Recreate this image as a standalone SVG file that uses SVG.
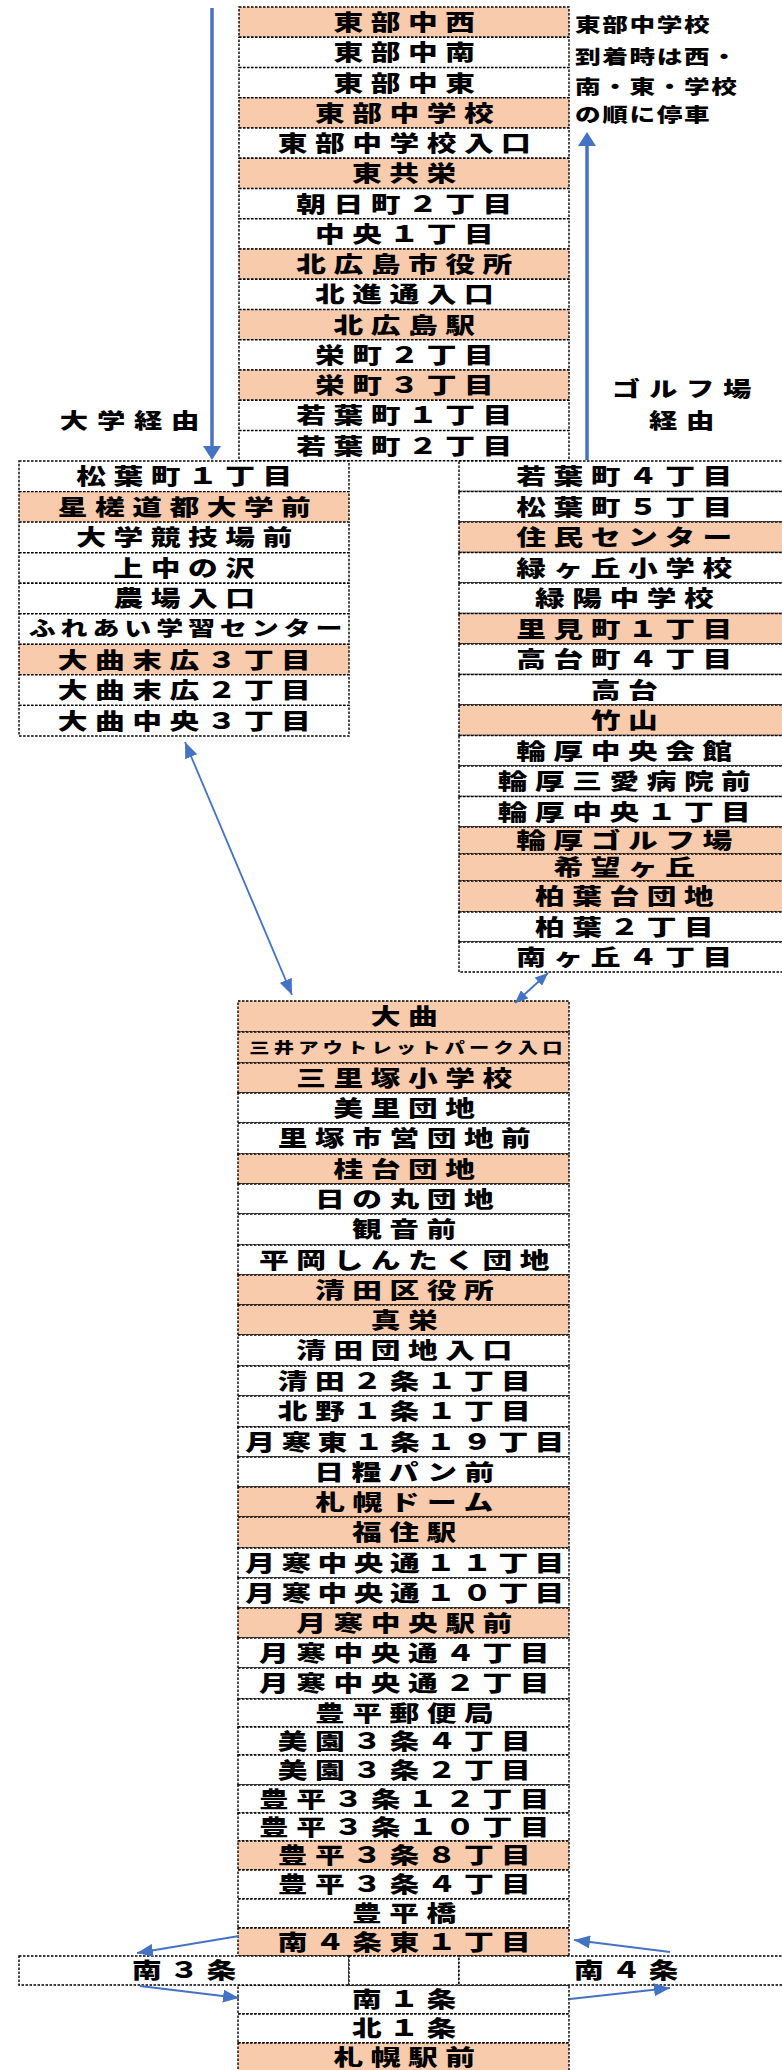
<svg xmlns="http://www.w3.org/2000/svg" width="782" height="2070" viewBox="0 0 782 2070">
<style>
.c{stroke:#000;stroke-width:1.4;stroke-dasharray:2.5 1.5;fill:#fff}
.o{fill:#F8CBAD}
.t{font-family:"Noto Sans CJK JP","Noto Sans",sans-serif;font-weight:900;font-size:22px;letter-spacing:5.6px;text-anchor:middle;fill:#000}
.w9{letter-spacing:4.8px}
.f{font-size:20px;letter-spacing:3.6px}
.s{font-size:15px;letter-spacing:3.1px}
.n{font-family:"Noto Sans CJK JP","Noto Sans",sans-serif;font-weight:900;font-size:19px;letter-spacing:1.2px;fill:#000}
.lb{font-family:"Noto Sans CJK JP","Noto Sans",sans-serif;font-weight:900;font-size:21px;letter-spacing:6.5px;text-anchor:middle;fill:#000}
.a{stroke:#4472C4;fill:none}
.thick{stroke-width:3.5}
.thin{stroke-width:1.8}
</style>
<defs>
<marker id="big" viewBox="0 0 14 18" refX="4" refY="9" markerWidth="14" markerHeight="18" markerUnits="userSpaceOnUse" orient="auto"><path d="M0,0 L14,9 L0,18 z" fill="#4472C4"/></marker>
<marker id="sm" viewBox="0 0 16 13" refX="16" refY="6.5" markerWidth="16" markerHeight="13" markerUnits="userSpaceOnUse" orient="auto-start-reverse"><path d="M0,0 L16,6.5 L0,13 z" fill="#4472C4"/></marker>
<marker id="xs" viewBox="0 0 13 11" refX="13" refY="5.5" markerWidth="13" markerHeight="11" markerUnits="userSpaceOnUse" orient="auto-start-reverse"><path d="M0,0 L13,5.5 L0,11 z" fill="#4472C4"/></marker>
</defs>

<g id="top-route">
<rect class="c o" x="239" y="7" width="330" height="30.3"/>
<rect class="c" x="239" y="37.3" width="330" height="30.3"/>
<rect class="c" x="239" y="67.5" width="330" height="30.3"/>
<rect class="c o" x="239" y="97.8" width="330" height="30.3"/>
<rect class="c" x="239" y="128" width="330" height="30.3"/>
<rect class="c o" x="239" y="158.3" width="330" height="30.3"/>
<rect class="c" x="239" y="188.5" width="330" height="30.3"/>
<rect class="c" x="239" y="218.8" width="330" height="30.3"/>
<rect class="c o" x="239" y="249" width="330" height="30.3"/>
<rect class="c" x="239" y="279.3" width="330" height="30.3"/>
<rect class="c o" x="239" y="309.5" width="330" height="30.3"/>
<rect class="c" x="239" y="339.8" width="330" height="30.3"/>
<rect class="c o" x="239" y="370" width="330" height="30.3"/>
<rect class="c" x="239" y="400.3" width="330" height="30.3"/>
<rect class="c" x="239" y="430.5" width="330" height="30.3"/>
<g transform="translate(408,0) scale(1.35,1)">
<text class="t" y="30.1">東部中西</text>
<text class="t" y="60.4">東部中南</text>
<text class="t" y="90.6">東部中東</text>
<text class="t" y="120.9">東部中学校</text>
<text class="t" y="151.1">東部中学校入口</text>
<text class="t" y="181.4">東共栄</text>
<text class="t" y="211.6">朝日町２丁目</text>
<text class="t" y="241.9">中央１丁目</text>
<text class="t" y="272.1">北広島市役所</text>
<text class="t" y="302.4">北進通入口</text>
<text class="t" y="332.6">北広島駅</text>
<text class="t" y="362.9">栄町２丁目</text>
<text class="t" y="393.1">栄町３丁目</text>
<text class="t" y="423.4">若葉町１丁目</text>
<text class="t" y="453.6">若葉町２丁目</text>
</g>
</g>

<g id="note">
<g transform="translate(575,0) scale(1.35,1)">
<text class="n" y="32">東部中学校</text>
<text class="n" y="64">到着時は西・</text>
<text class="n" y="94">南・東・学校</text>
<text class="n" y="122">の順に停車</text>
</g>
</g>

<g id="label-univ">
<g transform="translate(134,0) scale(1.35,1)"><text class="lb" y="428">大学経由</text></g>
</g>
<g id="label-golf">
<g transform="translate(686,0) scale(1.35,1)"><text class="lb" y="396">ゴルフ場</text><text class="lb" y="428">経由</text></g>
</g>

<g id="univ-route">
<rect class="c" x="19" y="461" width="330" height="30.6"/>
<rect class="c o" x="19" y="491.6" width="330" height="30.6"/>
<rect class="c" x="19" y="522.1" width="330" height="30.6"/>
<rect class="c" x="19" y="552.7" width="330" height="30.6"/>
<rect class="c" x="19" y="583.2" width="330" height="30.6"/>
<rect class="c" x="19" y="613.8" width="330" height="30.6"/>
<rect class="c o" x="19" y="644.3" width="330" height="30.6"/>
<rect class="c" x="19" y="674.9" width="330" height="30.6"/>
<rect class="c" x="19" y="705.4" width="330" height="30.6"/>
<g transform="translate(188,0) scale(1.35,1)">
<text class="t" y="484.3">松葉町１丁目</text>
<text class="t" y="514.9">星槎道都大学前</text>
<text class="t" y="545.4">大学競技場前</text>
<text class="t" y="576">上中の沢</text>
<text class="t" y="606.5">農場入口</text>
<text class="t f" y="636.5">ふれあい学習センター</text>
<text class="t" y="667.6">大曲末広３丁目</text>
<text class="t" y="698.2">大曲末広２丁目</text>
<text class="t" y="728.7">大曲中央３丁目</text>
</g>
</g>

<g id="golf-route">
<rect class="c" x="459" y="461" width="331" height="30.5"/>
<rect class="c" x="459" y="491.5" width="331" height="30.5"/>
<rect class="c o" x="459" y="522" width="331" height="30.5"/>
<rect class="c" x="459" y="552.5" width="331" height="30.5"/>
<rect class="c" x="459" y="583" width="331" height="30.5"/>
<rect class="c o" x="459" y="613.5" width="331" height="30.5"/>
<rect class="c" x="459" y="644" width="331" height="30.5"/>
<rect class="c" x="459" y="674.5" width="331" height="30.5"/>
<rect class="c o" x="459" y="705" width="331" height="30.5"/>
<rect class="c" x="459" y="735.5" width="331" height="30.5"/>
<rect class="c" x="459" y="766" width="331" height="30.5"/>
<rect class="c" x="459" y="796.5" width="331" height="30.5"/>
<rect class="c o" x="459" y="827" width="331" height="27"/>
<rect class="c o" x="459" y="854" width="331" height="27"/>
<rect class="c o" x="459" y="881" width="331" height="31"/>
<rect class="c" x="459" y="912" width="331" height="30"/>
<rect class="c" x="459" y="942" width="331" height="30"/>
<g transform="translate(628,0) scale(1.35,1)">
<text class="t" y="484.3">若葉町４丁目</text>
<text class="t" y="514.8">松葉町５丁目</text>
<text class="t" y="545.3">住民センター</text>
<text class="t" y="575.8">緑ヶ丘小学校</text>
<text class="t" y="606.3">緑陽中学校</text>
<text class="t" y="636.8">里見町１丁目</text>
<text class="t" y="667.3">高台町４丁目</text>
<text class="t" y="697.8">高台</text>
<text class="t" y="728.3">竹山</text>
<text class="t" y="758.8">輪厚中央会館</text>
<text class="t" y="789.3">輪厚三愛病院前</text>
<text class="t" y="819.8">輪厚中央１丁目</text>
<text class="t" y="848.5">輪厚ゴルフ場</text>
<text class="t" y="875.5">希望ヶ丘</text>
<text class="t" y="904.5">柏葉台団地</text>
<text class="t" y="935">柏葉２丁目</text>
<text class="t" y="965">南ヶ丘４丁目</text>
</g>
</g>

<g id="main-route">
<rect class="c o" x="238" y="1001" width="331" height="31"/>
<rect class="c o" x="238" y="1032" width="331" height="31"/>
<rect class="c o" x="238" y="1063" width="331" height="30"/>
<rect class="c" x="238" y="1093" width="331" height="30"/>
<rect class="c" x="238" y="1123" width="331" height="31"/>
<rect class="c o" x="238" y="1154" width="331" height="30"/>
<rect class="c" x="238" y="1184" width="331" height="30"/>
<rect class="c" x="238" y="1214" width="331" height="31"/>
<rect class="c" x="238" y="1245" width="331" height="30"/>
<rect class="c o" x="238" y="1275" width="331" height="30"/>
<rect class="c o" x="238" y="1305" width="331" height="30"/>
<rect class="c" x="238" y="1335" width="331" height="31"/>
<rect class="c" x="238" y="1366" width="331" height="30"/>
<rect class="c" x="238" y="1396" width="331" height="31"/>
<rect class="c" x="238" y="1427" width="331" height="30"/>
<rect class="c" x="238" y="1457" width="331" height="30"/>
<rect class="c o" x="238" y="1487" width="331" height="30"/>
<rect class="c o" x="238" y="1517" width="331" height="31"/>
<rect class="c" x="238" y="1548" width="331" height="30"/>
<rect class="c" x="238" y="1578" width="331" height="30"/>
<rect class="c o" x="238" y="1608" width="331" height="30"/>
<rect class="c" x="238" y="1638" width="331" height="30"/>
<rect class="c" x="238" y="1668" width="331" height="31"/>
<rect class="c" x="238" y="1699" width="331" height="28"/>
<rect class="c" x="238" y="1727" width="331" height="28"/>
<rect class="c" x="238" y="1755" width="331" height="30"/>
<rect class="c" x="238" y="1785" width="331" height="28"/>
<rect class="c" x="238" y="1813" width="331" height="28"/>
<rect class="c o" x="238" y="1841" width="331" height="29"/>
<rect class="c" x="238" y="1870" width="331" height="29"/>
<rect class="c" x="238" y="1899" width="331" height="29"/>
<rect class="c o" x="238" y="1928" width="331" height="28"/>
<rect class="c" x="238" y="1985" width="331" height="29"/>
<rect class="c" x="238" y="2014" width="331" height="29"/>
<rect class="c o" x="238" y="2043" width="331" height="30"/>
<g transform="translate(408,0) scale(1.35,1)">
<text class="t" y="1024.5">大曲</text>
<text class="t s" y="1053">三井アウトレットパーク入口</text>
<text class="t" y="1086">三里塚小学校</text>
<text class="t" y="1116">美里団地</text>
<text class="t" y="1146.5">里塚市営団地前</text>
<text class="t" y="1177">桂台団地</text>
<text class="t" y="1207">日の丸団地</text>
<text class="t" y="1237.5">観音前</text>
<text class="t" y="1268">平岡しんたく団地</text>
<text class="t" y="1298">清田区役所</text>
<text class="t" y="1328">真栄</text>
<text class="t" y="1358.5">清田団地入口</text>
<text class="t" y="1389">清田２条１丁目</text>
<text class="t" y="1419.5">北野１条１丁目</text>
<text class="t w9" y="1450">月寒東１条１９丁目</text>
<text class="t" y="1480">日糧パン前</text>
<text class="t" y="1510">札幌ドーム</text>
<text class="t" y="1540.5">福住駅</text>
<text class="t w9" y="1571">月寒中央通１１丁目</text>
<text class="t w9" y="1601">月寒中央通１０丁目</text>
<text class="t" y="1631">月寒中央駅前</text>
<text class="t" y="1661">月寒中央通４丁目</text>
<text class="t" y="1691.5">月寒中央通２丁目</text>
<text class="t" y="1721">豊平郵便局</text>
<text class="t" y="1749">美園３条４丁目</text>
<text class="t" y="1778">美園３条２丁目</text>
<text class="t" y="1807">豊平３条１２丁目</text>
<text class="t" y="1835">豊平３条１０丁目</text>
<text class="t" y="1863.5">豊平３条８丁目</text>
<text class="t" y="1892.5">豊平３条４丁目</text>
<text class="t" y="1921.5">豊平橋</text>
<text class="t" y="1950">南４条東１丁目</text>
<text class="t" y="2007.5">南１条</text>
<text class="t" y="2036.5">北１条</text>
<text class="t" y="2065.5">札幌駅前</text>
</g>
</g>

<g id="split-row">
<rect class="c" x="19" y="1956" width="330" height="29"/>
<rect class="c" x="349" y="1956" width="110" height="29"/>
<rect class="c" x="459" y="1956" width="331" height="29"/>
<g transform="translate(188,0) scale(1.35,1)"><text class="t" y="1978.5">南３条</text></g>
<g transform="translate(630,0) scale(1.35,1)"><text class="t" y="1978.5">南４条</text></g>
</g>

<g id="connectors">
<line class="a thick" x1="212" y1="8" x2="212" y2="450" marker-end="url(#big)"/>
<line class="a thick" x1="587" y1="460" x2="587" y2="142" marker-end="url(#big)"/>
<line class="a thin" x1="185" y1="742" x2="292" y2="995" marker-start="url(#sm)" marker-end="url(#sm)"/>
<line class="a thin" x1="548" y1="973" x2="515" y2="1003" marker-start="url(#xs)" marker-end="url(#xs)"/>
<line class="a thin" x1="239" y1="1936" x2="137" y2="1953" marker-end="url(#sm)"/>
<line class="a thin" x1="140" y1="1986" x2="239" y2="1998" marker-end="url(#sm)"/>
<line class="a thin" x1="570" y1="1999" x2="670" y2="1988" marker-end="url(#sm)"/>
<line class="a thin" x1="670" y1="1952" x2="574" y2="1940" marker-end="url(#sm)"/>
</g>
</svg>
